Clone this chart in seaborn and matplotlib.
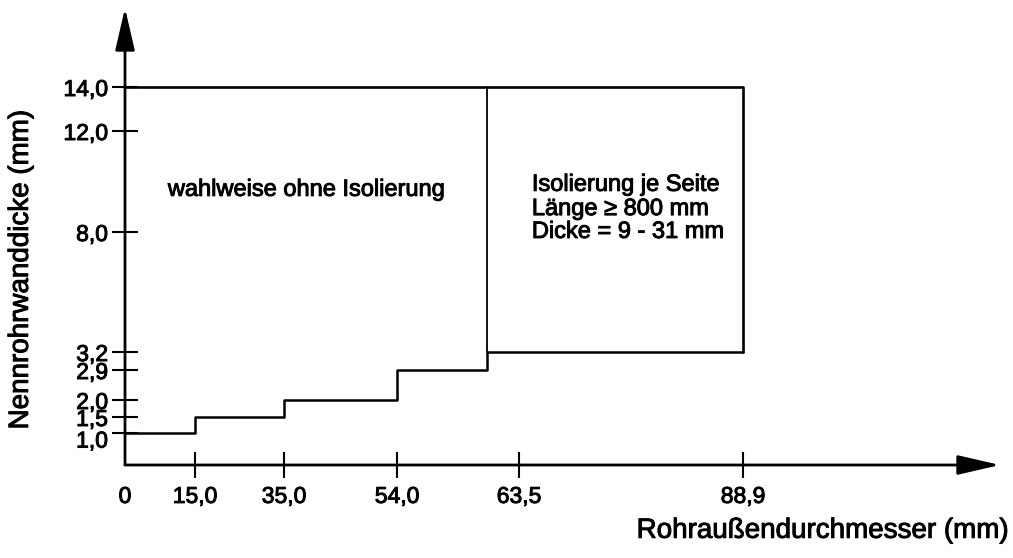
import numpy as np
import matplotlib
matplotlib.use("Agg")
import matplotlib.pyplot as plt
import matplotlib.patheffects as pe
import matplotlib.transforms as mtransforms
import seaborn as sns

# Daten: Außendurchmesser-Grenzen und Mindest-Wanddicken
x_steps = [0, 15.0, 35.0, 54.0, 60.3, 88.9]
wall_min = [1.0, 1.5, 2.0, 2.9, 3.2]
wall_max = 14.0
x_split = 60.3

x_ticks = [0, 15.0, 35.0, 54.0, 63.5, 88.9]
y_ticks = [1.0, 1.5, 2.0, 2.9, 3.2, 8.0, 12.0, 14.0]

left_text = "wahlweise ohne Isolierung"
right_text = ["Isolierung je Seite", "Länge ≥ 800 mm", "Dicke = 9 - 31 mm"]

# schematische (nicht lineare) Achsen: Stützstellen Wert -> Pixel
x_anchor_val = [0, 15.0, 35.0, 54.0, 60.3, 63.5, 88.9, 118.0]
x_anchor_px = [0, 70, 159, 272, 362, 394, 618, 875]
y_anchor_val = [0, 1.0, 1.5, 2.0, 2.9, 3.2, 8.0, 12.0, 14.0, 17.6]
y_anchor_px = [0, 32, 48, 65, 95, 113, 233, 334, 378, 457]


def make_scale(vals, px):
    fwd = lambda v: np.interp(v, vals, px)
    inv = lambda p: np.interp(p, px, vals)
    return fwd, inv


sns.set_style("white")
plt.rcParams["font.family"] = ["Liberation Sans", "DejaVu Sans"]
plt.rcParams["text.color"] = "black"
plt.rcParams["axes.labelcolor"] = "black"

fig = plt.figure(figsize=(10.13, 5.58), dpi=100)
ax = fig.add_axes([125 / 1013, 93 / 558, 875 / 1013, 457 / 558])
ax.set_xscale("function", functions=make_scale(x_anchor_val, x_anchor_px))
ax.set_yscale("function", functions=make_scale(y_anchor_val, y_anchor_px))

kw = dict(color="black", estimator=None, sort=False, ax=ax)
# Treppe der Mindestwanddicke
sns.lineplot(x=x_steps, y=wall_min + [wall_min[-1]], drawstyle="steps-post", lw=1.8, **kw)
# obere Grenze und rechter Rand
sns.lineplot(x=[x_steps[-1], x_steps[-1], 0], y=[wall_min[-1], wall_max, wall_max], lw=1.9, **kw)
# Trennlinie der Bereiche
sns.lineplot(x=[x_split, x_split], y=[wall_min[-1], wall_max], lw=1.3, **kw)

ax.set_xlim(0, x_anchor_val[-1])
ax.set_ylim(0, y_anchor_val[-1])

for s in ax.spines.values():
    s.set_visible(False)

arrow = dict(arrowstyle="-|>,head_length=1.3,head_width=0.3", color="black",
             lw=2, mutation_scale=20, shrinkA=0, shrinkB=0)
ax.annotate("", xy=(0, 1), xytext=(0, 0), xycoords="axes fraction",
            textcoords="axes fraction", arrowprops=arrow, annotation_clip=False)
ax.annotate("", xy=(1, 0), xytext=(0, 0), xycoords="axes fraction",
            textcoords="axes fraction", arrowprops=arrow, annotation_clip=False)

fmt = lambda v: "0" if v == 0 else f"{v:.1f}".replace(".", ",")
ax.set_xticks(x_ticks, [fmt(v) for v in x_ticks])
ax.set_yticks(y_ticks, [fmt(v) for v in y_ticks])
ax.tick_params(axis="both", direction="inout", length=18.7, width=1.5,
               labelsize=16.5, colors="black", bottom=True, left=True)
ax.tick_params(axis="y", pad=3)
ax.tick_params(axis="x", pad=5)
ax.xaxis.get_major_ticks()[0].tick1line.set_visible(False)

# unterstes Label etwas nach unten, wie in der Vorlage
lbl_10 = ax.get_yticklabels()[0]
lbl_10.set_transform(lbl_10.get_transform() +
                     mtransforms.ScaledTranslation(0, -4 / 72, fig.dpi_scale_trans))

ax.set_xlabel("Rohraußendurchmesser (mm)", fontsize=20, ha="right", va="center")
ax.xaxis.set_label_coords(1.009, -0.144)
ax.set_ylabel("Nennrohrwanddicke (mm)", fontsize=20, va="center", ha="center")
ax.yaxis.set_label_coords(-0.119, 0.427)

texts = [ax.text(0.049, 0.602, left_text, transform=ax.transAxes, fontsize=17, va="center")]
for line, yy in zip(right_text, [0.613, 0.560, 0.510]):
    texts.append(ax.text(0.465, yy, line, transform=ax.transAxes, fontsize=17, va="center"))

stroke = [pe.withStroke(linewidth=0.7, foreground="black")]
for t in texts + ax.get_xticklabels() + ax.get_yticklabels() + [ax.xaxis.label, ax.yaxis.label]:
    t.set_path_effects(stroke)

fig.savefig("out.png", dpi=100)
